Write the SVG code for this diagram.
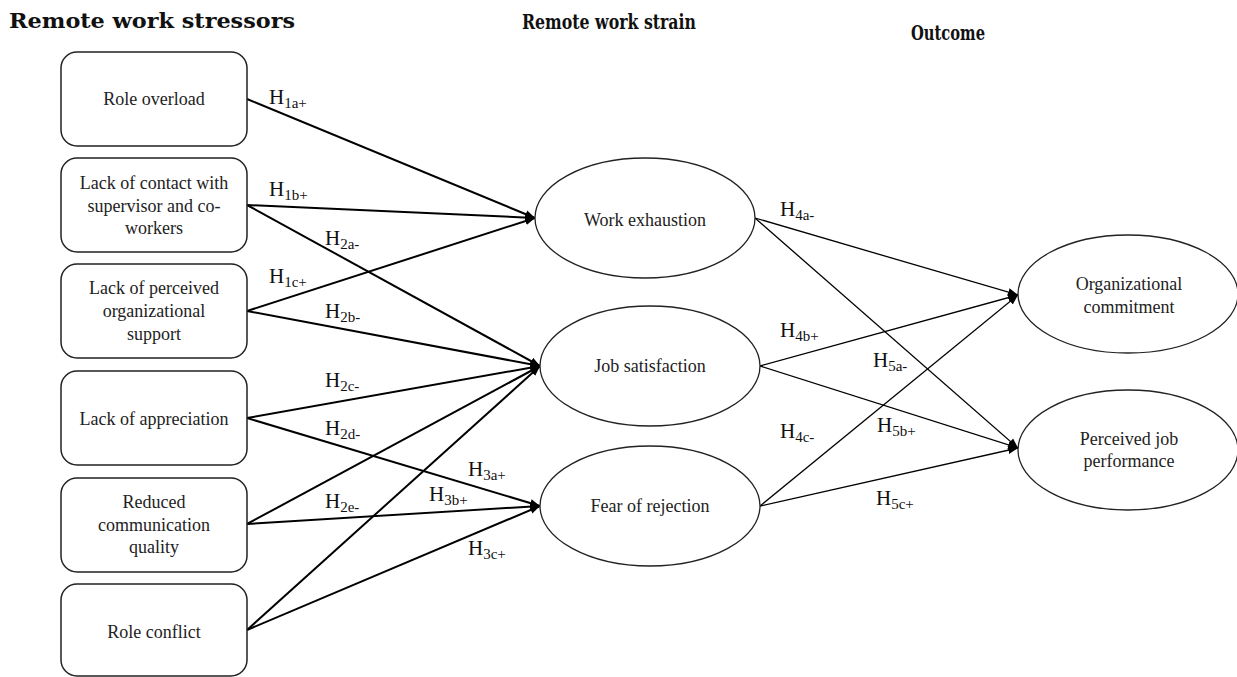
<svg xmlns="http://www.w3.org/2000/svg" width="1237" height="677" viewBox="0 0 1237 677">
  <style>
    .hdr { font-family: "DejaVu Serif", "Liberation Serif", serif; font-weight: bold; font-size: 20px; fill: #111; }
    .lbl { font-family: "Liberation Serif", "Times New Roman", serif; font-size: 18px; fill: #222; text-anchor: middle; }
    .hyp { font-family: "Liberation Serif", "Times New Roman", serif; font-size: 21px; fill: #111; }
    .sub { font-size: 15px; }
    .box { fill: #fff; stroke: #222; stroke-width: 1.5; }
    .ell { fill: #fff; stroke: #222; stroke-width: 1.3; }
    .c1 { fill: none; stroke: #000; stroke-width: 2; marker-end: url(#head); }
    .c2 { fill: none; stroke: #000; stroke-width: 1.3; marker-end: url(#head); }
  </style>
  <defs>
    <marker id="head" markerUnits="userSpaceOnUse" markerWidth="10" markerHeight="10" viewBox="0 0 10 10" refX="10" refY="5" orient="auto">
      <path d="M0,1 L10,5 L0,9 Z" fill="#000"/>
    </marker>
  </defs>
  <rect width="1237" height="677" fill="#fff"/>

  <!-- column headings -->
  <text class="hdr" x="9" y="28" textLength="286" lengthAdjust="spacingAndGlyphs">Remote work stressors</text>
  <text class="hdr" x="522" y="29" textLength="174" lengthAdjust="spacingAndGlyphs">Remote work strain</text>
  <text class="hdr" x="911" y="40" textLength="74" lengthAdjust="spacingAndGlyphs">Outcome</text>

  <!-- connectors -->
  <g id="connectors">
    <line class="c1" x1="247" y1="99" x2="535" y2="218"/>
    <line class="c1" x1="247" y1="205" x2="535" y2="218"/>
    <line class="c1" x1="247" y1="205" x2="540" y2="366"/>
    <line class="c1" x1="247" y1="311" x2="535" y2="218"/>
    <line class="c1" x1="247" y1="311" x2="540" y2="366"/>
    <line class="c1" x1="247" y1="418" x2="540" y2="366"/>
    <line class="c1" x1="247" y1="418" x2="540" y2="506"/>
    <line class="c1" x1="247" y1="524" x2="540" y2="366"/>
    <line class="c1" x1="247" y1="524" x2="540" y2="506"/>
    <line class="c1" x1="247" y1="630" x2="540" y2="366"/>
    <line class="c1" x1="247" y1="630" x2="540" y2="506"/>
    <line class="c2" x1="755" y1="218" x2="1018" y2="295"/>
    <line class="c2" x1="755" y1="218" x2="1018" y2="448"/>
    <line class="c2" x1="760" y1="366" x2="1018" y2="295"/>
    <line class="c2" x1="760" y1="366" x2="1018" y2="448"/>
    <line class="c2" x1="760" y1="506" x2="1018" y2="295"/>
    <line class="c2" x1="760" y1="506" x2="1018" y2="448"/>
  </g>

  <!-- hypothesis labels -->
  <g id="hypotheses">
    <text class="hyp" x="269" y="104">H<tspan class="sub" dy="4">1a+</tspan></text>
    <text class="hyp" x="269" y="196">H<tspan class="sub" dy="4">1b+</tspan></text>
    <text class="hyp" x="325" y="245">H<tspan class="sub" dy="4">2a-</tspan></text>
    <text class="hyp" x="269" y="283">H<tspan class="sub" dy="4">1c+</tspan></text>
    <text class="hyp" x="325" y="318">H<tspan class="sub" dy="4">2b-</tspan></text>
    <text class="hyp" x="325" y="387">H<tspan class="sub" dy="4">2c-</tspan></text>
    <text class="hyp" x="325" y="435">H<tspan class="sub" dy="4">2d-</tspan></text>
    <text class="hyp" x="325" y="508">H<tspan class="sub" dy="4">2e-</tspan></text>
    <text class="hyp" x="468" y="476">H<tspan class="sub" dy="4">3a+</tspan></text>
    <text class="hyp" x="429" y="501">H<tspan class="sub" dy="4">3b+</tspan></text>
    <text class="hyp" x="468" y="555">H<tspan class="sub" dy="4">3c+</tspan></text>
    <text class="hyp" x="780" y="216">H<tspan class="sub" dy="4">4a-</tspan></text>
    <text class="hyp" x="780" y="337">H<tspan class="sub" dy="4">4b+</tspan></text>
    <text class="hyp" x="780" y="438">H<tspan class="sub" dy="4">4c-</tspan></text>
    <text class="hyp" x="873" y="367">H<tspan class="sub" dy="4">5a-</tspan></text>
    <text class="hyp" x="877" y="432">H<tspan class="sub" dy="4">5b+</tspan></text>
    <text class="hyp" x="876" y="505">H<tspan class="sub" dy="4">5c+</tspan></text>
  </g>

  <!-- stressors -->
  <g id="role-overload">
    <rect class="box" x="61" y="52" width="186" height="94" rx="16"/>
    <text class="lbl" x="154" y="105">Role overload</text>
  </g>
  <g id="lack-of-contact">
    <rect class="box" x="61" y="158" width="186" height="94" rx="16"/>
    <text class="lbl" x="154" y="189">Lack of contact with</text>
    <text class="lbl" x="154" y="212">supervisor and co-</text>
    <text class="lbl" x="154" y="234">workers</text>
  </g>
  <g id="lack-of-support">
    <rect class="box" x="61" y="264" width="186" height="94" rx="16"/>
    <text class="lbl" x="154" y="294">Lack of perceived</text>
    <text class="lbl" x="154" y="317">organizational</text>
    <text class="lbl" x="154" y="340">support</text>
  </g>
  <g id="lack-of-appreciation">
    <rect class="box" x="61" y="371" width="186" height="94" rx="16"/>
    <text class="lbl" x="154" y="425">Lack of appreciation</text>
  </g>
  <g id="reduced-communication">
    <rect class="box" x="61" y="478" width="186" height="94" rx="16"/>
    <text class="lbl" x="154" y="508">Reduced</text>
    <text class="lbl" x="154" y="531">communication</text>
    <text class="lbl" x="154" y="553">quality</text>
  </g>
  <g id="role-conflict">
    <rect class="box" x="61" y="584" width="186" height="92" rx="16"/>
    <text class="lbl" x="154" y="638">Role conflict</text>
  </g>

  <!-- strain -->
  <g id="work-exhaustion">
    <ellipse class="ell" cx="645" cy="218" rx="110" ry="60"/>
    <text class="lbl" x="645" y="226">Work exhaustion</text>
  </g>
  <g id="job-satisfaction">
    <ellipse class="ell" cx="650" cy="366" rx="110" ry="60"/>
    <text class="lbl" x="650" y="372">Job satisfaction</text>
  </g>
  <g id="fear-of-rejection">
    <ellipse class="ell" cx="650" cy="506" rx="110" ry="60"/>
    <text class="lbl" x="650" y="512">Fear of rejection</text>
  </g>

  <!-- outcomes -->
  <g id="organizational-commitment">
    <ellipse class="ell" cx="1128" cy="294" rx="110" ry="59"/>
    <text class="lbl" x="1129" y="290">Organizational</text>
    <text class="lbl" x="1129" y="313">commitment</text>
  </g>
  <g id="perceived-job-performance">
    <ellipse class="ell" cx="1128" cy="450" rx="110" ry="60"/>
    <text class="lbl" x="1129" y="445">Perceived job</text>
    <text class="lbl" x="1129" y="467">performance</text>
  </g>
</svg>
